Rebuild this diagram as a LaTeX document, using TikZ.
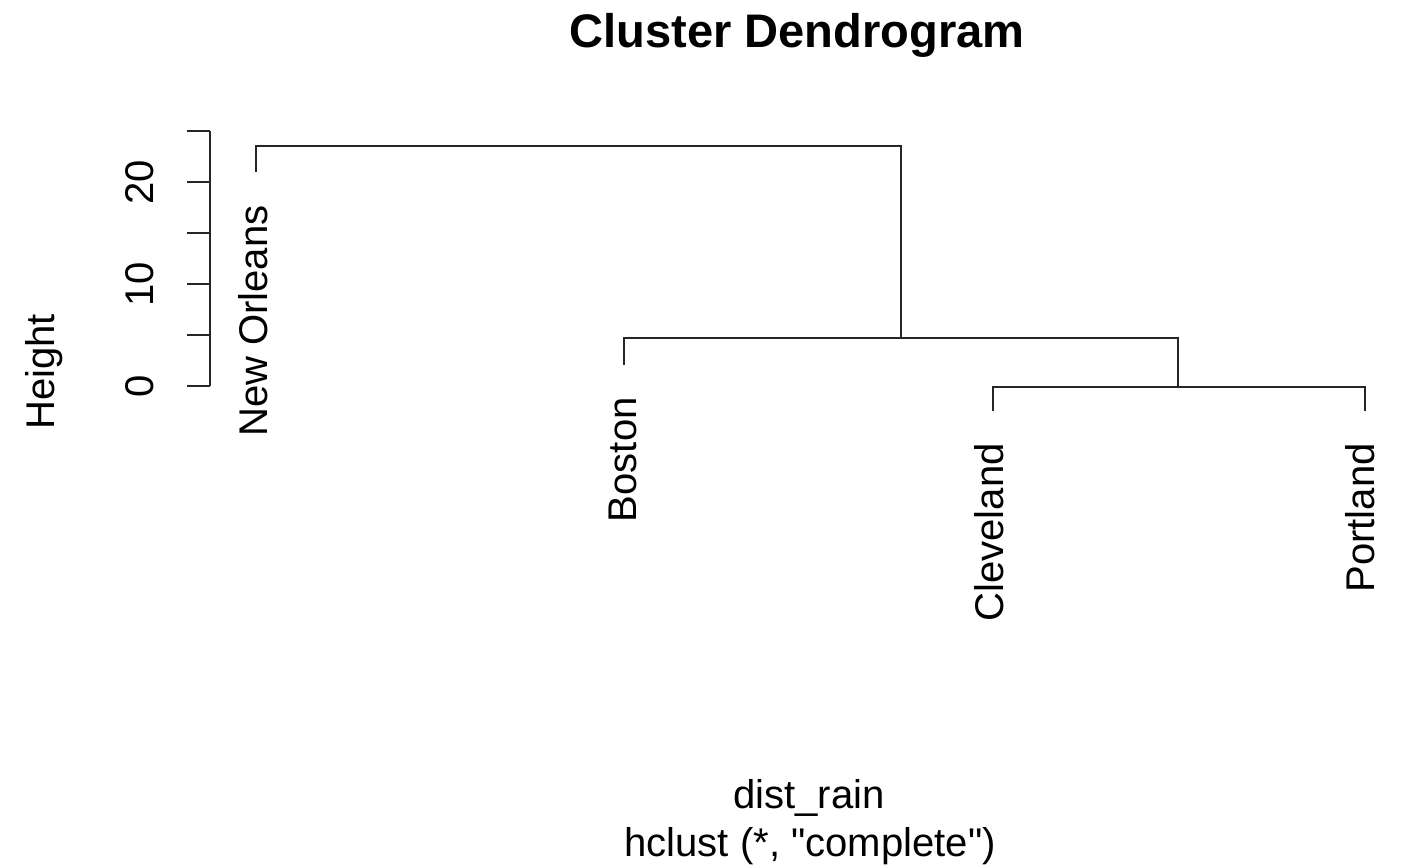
\documentclass[tikz,border=0pt]{standalone}
\usepackage{fontspec}
\setmainfont{Liberation Sans}
\usetikzlibrary{positioning}

\begin{document}
\begin{tikzpicture}[
    x=0.02cm, y=-0.02cm,
    every node/.style={inner sep=0pt, font=\fontsize{22.8}{26}\selectfont},
    ln/.style={line width=1.2pt, black!85},
    lf/.style={rotate=90, anchor=base east},
    tk/.style={rotate=90}
]
\useasboundingbox (0,0) rectangle (1407,865);
% titles
\node[anchor=base, font=\fontsize{26.8}{30}\selectfont\bfseries] (ttl) at (797,48) {Cluster Dendrogram};
\node[anchor=base] (sub) at (809,808) {dist\_rain};
\node[anchor=base] (meth) at (810,856) {hclust (*, \textquotedbl complete\textquotedbl)};
% height axis
\coordinate (ax0) at (210,386);
\coordinate (ax25) at (210,131);
\draw[ln] (ax0) -- (ax25);
\foreach \h in {0,5,...,25}
  \draw[ln] (210,{386-10.2*\h}) -- ++(-23,0);
\node[tk] (t0)  at (140,386) {0};
\node[tk] (t10) at (140,284) {10};
\node[tk] (t20) at (140,182) {20};
\node[rotate=90, anchor=base] (ylab) at (54,372) {Height};
% leaves and merges
\coordinate (no) at (256,172);
\coordinate (bo) at (624,365);
\coordinate (cl) at (993,411);
\coordinate (po) at (1365,411);
\coordinate (m1) at (1178,387);
\coordinate (m2) at (901,338);
\coordinate (m3) at (901,146);
\draw[ln] (cl) |- (m1) -| (po);
\draw[ln] (bo) |- (m2) -| (m1);
\draw[ln] (no) |- (m3) -- (m2);
% leaf labels
\node[lf] (nol) at (267,205) {New Orleans};
\node[lf] (bol) at (636,397) {Boston};
\node[lf] (cll) at (1003,443) {Cleveland};
\node[lf] (pol) at (1374,443) {Portland};
\end{tikzpicture}
\end{document}
